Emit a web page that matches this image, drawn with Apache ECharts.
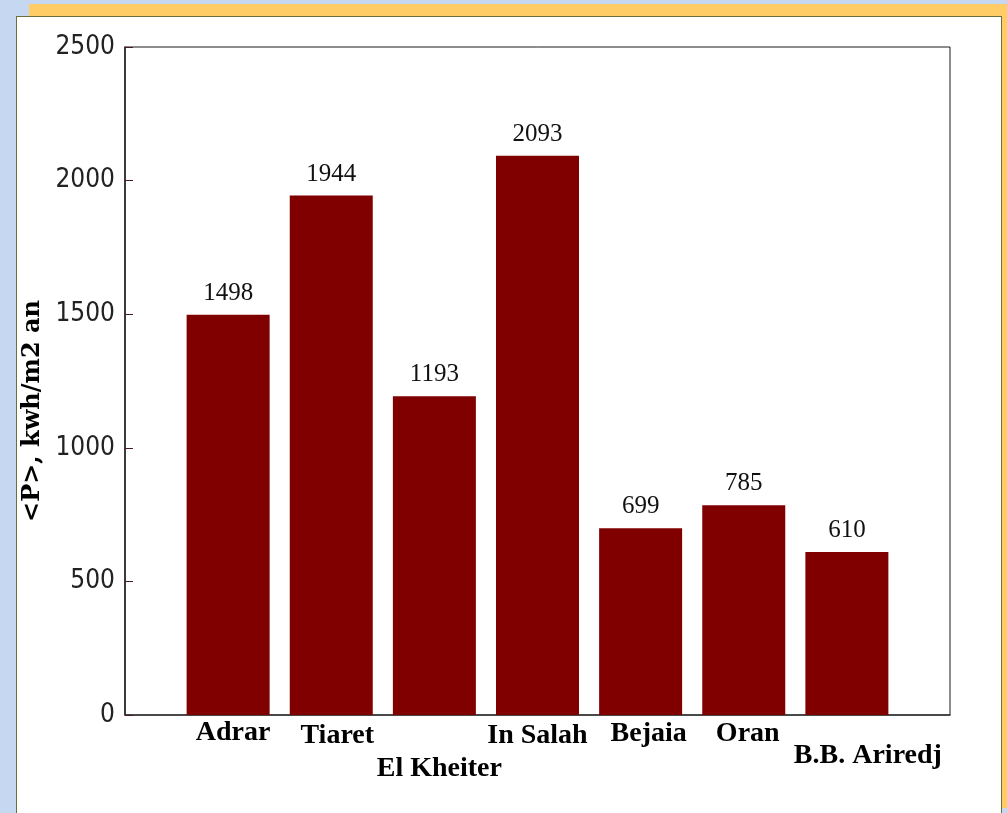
<!DOCTYPE html>
<html>
<head>
<meta charset="utf-8">
<script src="https://cdn.jsdelivr.net/npm/echarts@6/dist/echarts.min.js"></script>
<style>
  html, body { margin: 0; padding: 0; width: 1007px; height: 813px; overflow: hidden;
    background: #c6d7f2; }
  #shadow { position: absolute; left: 29px; top: 4px; width: 978px; height: 804px; background: #ffcc66; }
  #panel { position: absolute; left: 16px; top: 16px; width: 984px; height: 800px; background: #ffffff;
    border-left: 1px solid #6e6e3c; border-top: 1px solid #6e6e3c; border-right: 1px solid #6e6e3c; }
  #chart { position: absolute; left: 0; top: 0; width: 1007px; height: 813px; }
</style>
</head>
<body>
<div id="shadow"></div>
<div id="panel"></div>
<div id="chart"></div>
<script>
// ---- data ----
const categories = ['Adrar', 'Tiaret', 'El Kheiter', 'In Salah', 'Bejaia', 'Oran', 'B.B. Ariredj'];
const values = [1498, 1944, 1193, 2093, 699, 785, 610];
const yTicks = [0, 500, 1000, 1500, 2000, 2500];
const yAxisTitle = '<P>, kwh/m2 an';

// ---- label styling (staggered category labels, as in the reference) ----
const labelPads = [[2, 0, 0, 10], [5, 0, 0, 12], [38, 0, 0, 10], [5, 0, 0, 0], [3, 0, 0, 16], [3, 0, 0, 8], [25, 0, 0, 42]];
const rich = {};
labelPads.forEach((p, i) => {
  rich['c' + i] = { fontFamily: "'Liberation Serif', 'Times New Roman', serif", fontWeight: 'bold',
    fontSize: 28, color: '#000', padding: p };
});

const chart = echarts.init(document.getElementById('chart'), null, { renderer: 'canvas' });
chart.setOption({
  backgroundColor: 'transparent',
  animation: false,
  grid: { left: 125, right: 57, top: 47, bottom: 98, show: true, borderColor: '#1a1a1a', borderWidth: 1 },
  xAxis: {
    type: 'value', min: -1, max: 7, interval: 1,
    axisLine: { show: true, onZero: false, lineStyle: { color: '#333', width: 1.5 } },
    axisTick: { show: false },
    splitLine: { show: false },
    axisLabel: {
      margin: 2,
      formatter: v => (v >= 0 && v < categories.length) ? '{c' + v + '|' + categories[v] + '}' : '',
      rich: rich
    }
  },
  yAxis: {
    type: 'value', min: yTicks[0], max: yTicks[yTicks.length - 1], interval: yTicks[1] - yTicks[0],
    name: yAxisTitle, nameLocation: 'middle', nameGap: 74, nameRotate: 90,
    nameTextStyle: { fontFamily: "'DejaVu Serif', serif", fontWeight: 'bold', fontSize: 24, color: '#000',
      padding: [0, 60, 0, 0] },
    axisLine: { show: true, onZero: false, lineStyle: { color: '#222', width: 1.5 } },
    axisTick: { show: true, inside: true, length: 8, lineStyle: { color: '#4a1a1a', width: 1 } },
    splitLine: { show: false },
    axisLabel: { margin: 10, fontFamily: "'DejaVu Sans Condensed', 'Liberation Sans Narrow', sans-serif",
      fontSize: 26, color: '#222', formatter: v => String(v) }
  },
  series: [{
    type: 'bar',
    barWidth: 83,
    data: values.map((v, i) => [i, v]),
    itemStyle: { color: '#800000' },
    label: { show: true, position: 'top', distance: 9,
      fontFamily: "'Liberation Serif', 'Times New Roman', serif", fontSize: 25, color: '#111',
      formatter: p => p.value[1] }
  }]
});
</script>
</body>
</html>
